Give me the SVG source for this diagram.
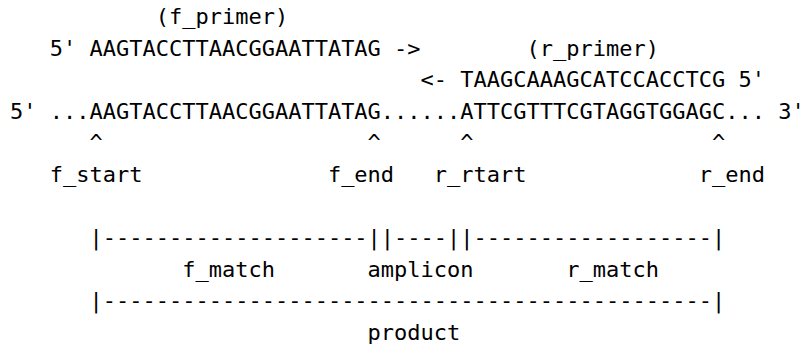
<svg xmlns="http://www.w3.org/2000/svg" width="804" height="349" viewBox="0 0 804 349">
<style>
  text { font-family: "DejaVu Sans Mono", "Liberation Mono", monospace; font-size: 22px; fill: #000; white-space: pre; }
</style>
<rect width="804" height="349" fill="#fff"/>
<g id="diagram" xml:space="preserve">
<text x="10" y="24">           (f_primer)</text>
<text x="10" y="55.6">   5' AAGTACCTTAACGGAATTATAG ->        (r_primer)</text>
<text x="10" y="87.2">                               &lt;- TAAGCAAAGCATCCACCTCG 5'</text>
<text x="10" y="118.8">5' ...AAGTACCTTAACGGAATTATAG......ATTCGTTTCGTAGGTGGAGC... 3'</text>
<text x="10" y="150.4">      ^                    ^      ^                  ^</text>
<text x="10" y="182">   f_start              f_end   r_rtart             r_end</text>
<text x="10" y="245.2">      |--------------------||----||------------------|</text>
<text x="10" y="276.8">             f_match       amplicon       r_match</text>
<text x="10" y="308.4">      |----------------------------------------------|</text>
<text x="10" y="340">                           product</text>
</g>
</svg>
